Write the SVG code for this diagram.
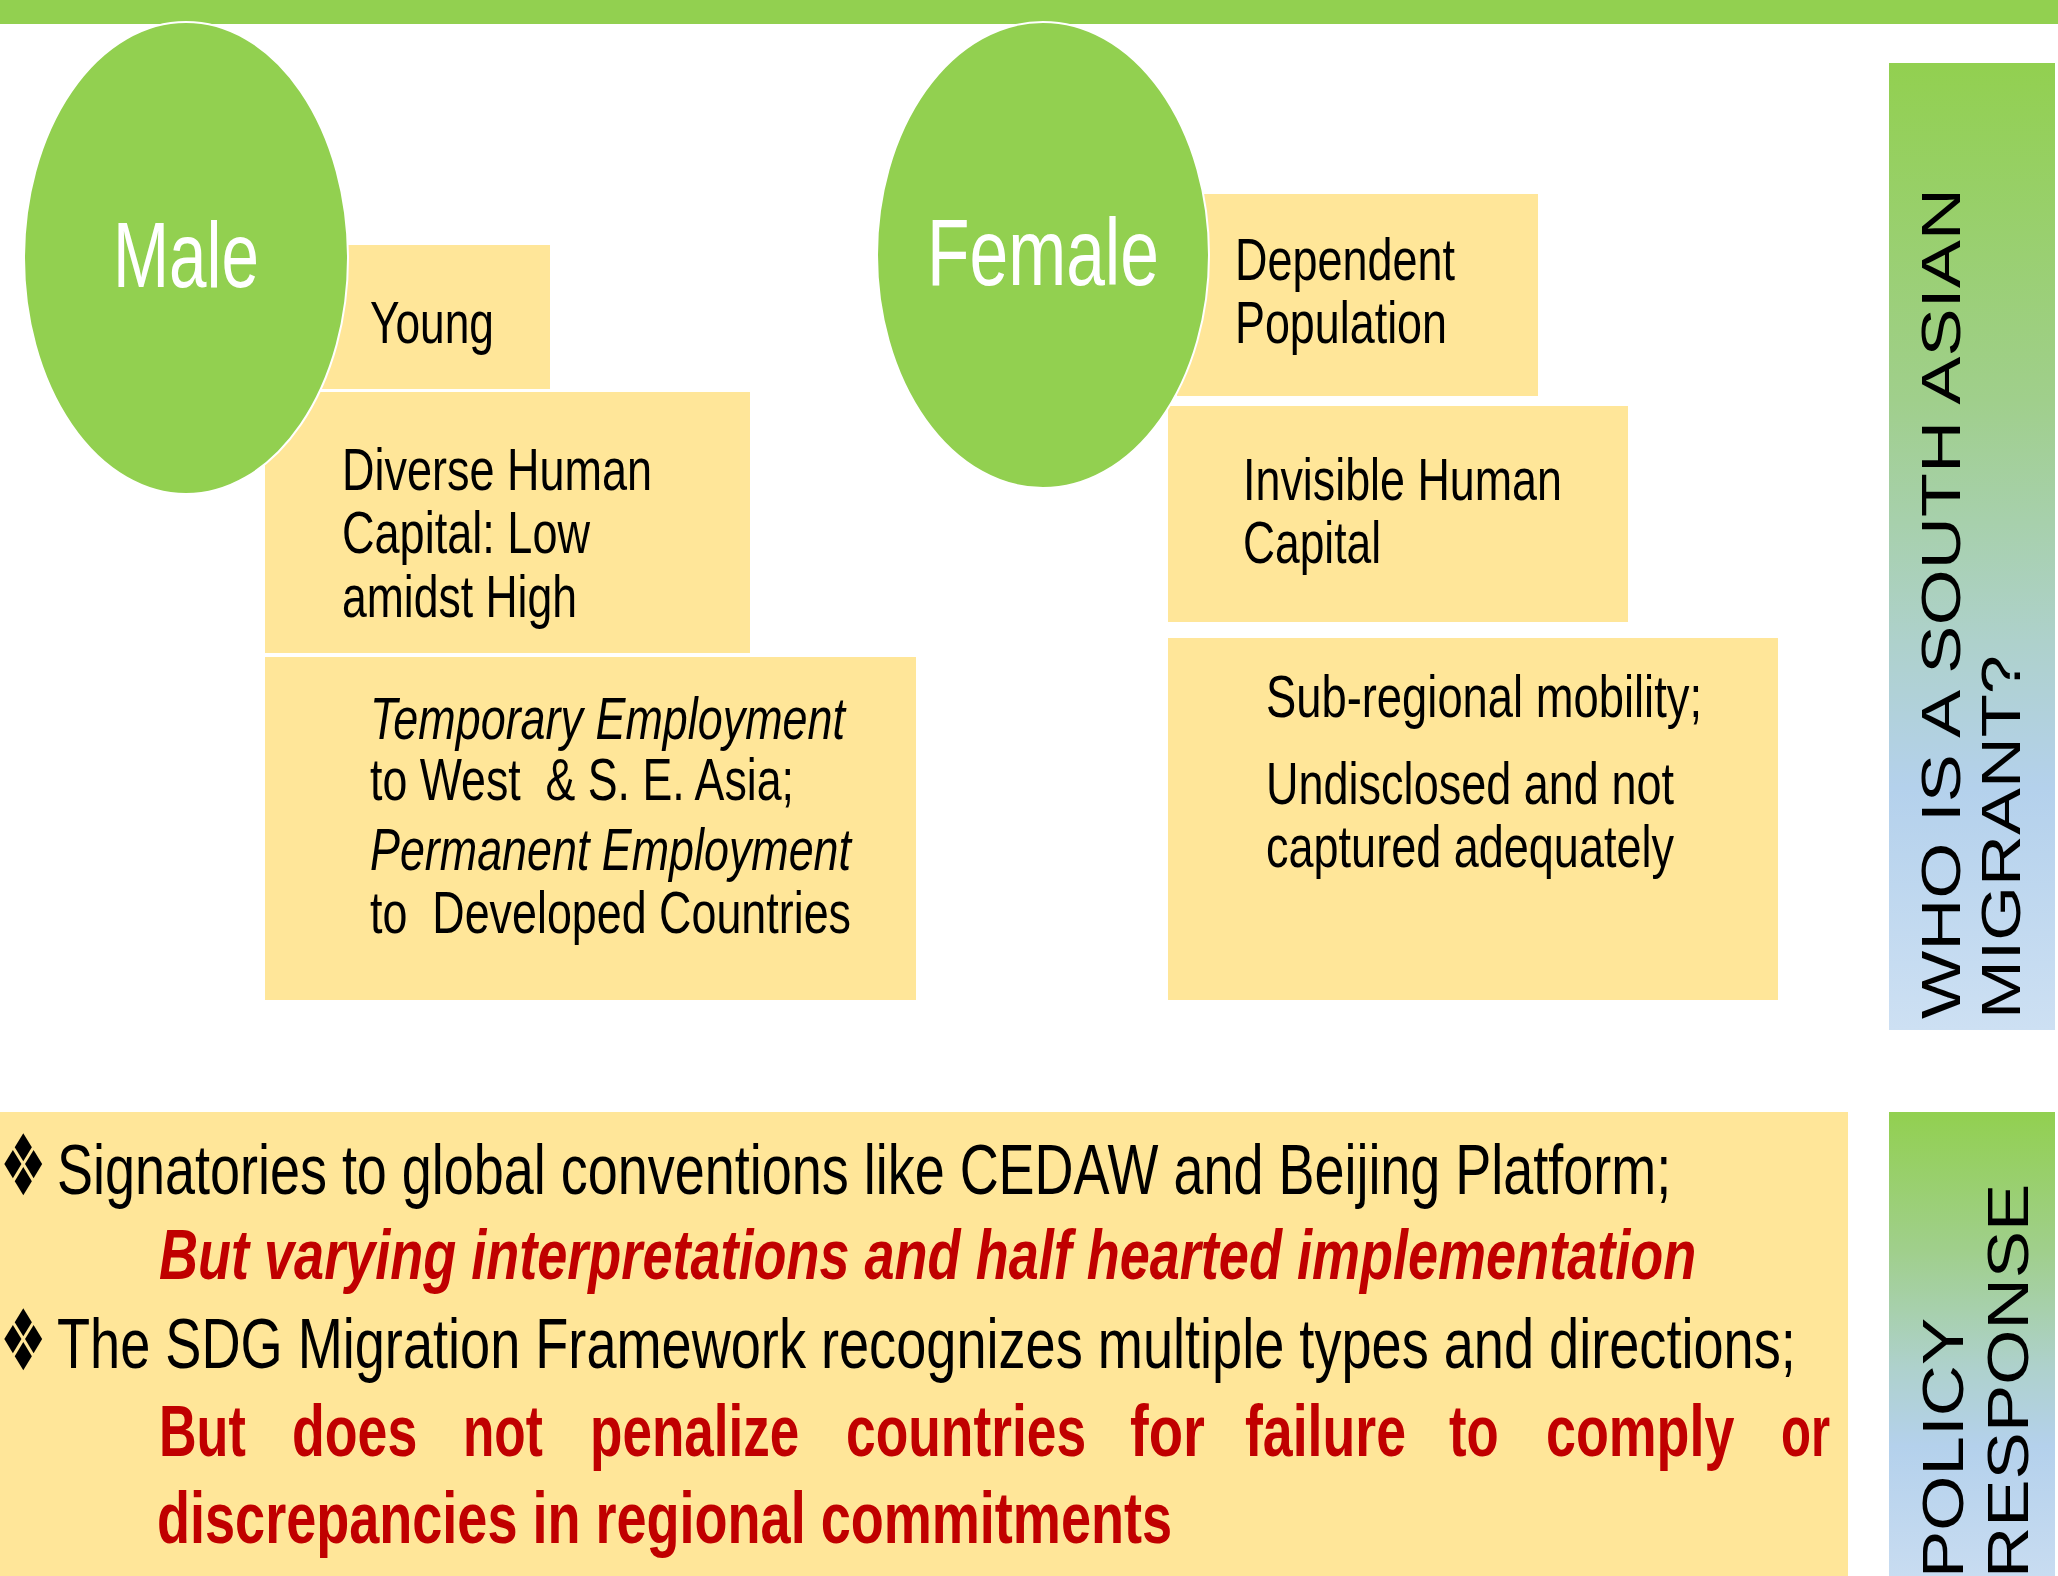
<svg xmlns="http://www.w3.org/2000/svg" width="2058" height="1576" viewBox="0 0 2058 1576">
<defs>
<linearGradient id="sideGrad" x1="0" y1="0" x2="0" y2="1">
<stop offset="0" stop-color="#92D050"/>
<stop offset="0.35" stop-color="#A0CF8C"/>
<stop offset="0.6" stop-color="#AED1CC"/>
<stop offset="0.75" stop-color="#B4D1EC"/>
<stop offset="1" stop-color="#CDE0F3"/>
</linearGradient>
<linearGradient id="policyGrad" x1="0" y1="0" x2="0" y2="1">
<stop offset="0" stop-color="#92D050"/>
<stop offset="0.3" stop-color="#A0CF8C"/>
<stop offset="0.55" stop-color="#AED1CC"/>
<stop offset="0.72" stop-color="#B4D1EC"/>
<stop offset="1" stop-color="#C8DCF1"/>
</linearGradient>
</defs>
<style>
text{font-family:"Liberation Sans",Arial,sans-serif;}
.box{fill:#FFE699;}
.circ{fill:#92D050;stroke:#FFFFFF;stroke-width:2;}
.big{fill:#FFFFFF;}
.t{fill:#000000;font-size:60px;}
.ti{fill:#000000;font-size:60px;font-style:italic;}
.b1{fill:#000000;font-size:71px;}
.r1{fill:#C00000;font-size:70px;font-weight:bold;font-style:italic;}
.r2{fill:#C00000;font-size:72px;font-weight:bold;}
.bul{fill:#000000;font-family:"DejaVu Sans",sans-serif;font-size:85px;}
.side{fill:#000000;font-size:71px;}
</style>
<rect x="0" y="0" width="2058" height="24" fill="#92D050"/>
<g id="connectors"/>
<g id="young">
<rect class="box" x="322" y="245" width="228" height="144"/>
<text class="t" x="370" y="343" textLength="124" lengthAdjust="spacingAndGlyphs">Young</text>
</g>
<g id="diverse">
<rect class="box" x="265" y="392" width="485" height="261"/>
<text class="t" x="342" y="490" textLength="310" lengthAdjust="spacingAndGlyphs">Diverse Human</text>
<text class="t" x="342" y="553" textLength="248" lengthAdjust="spacingAndGlyphs">Capital: Low</text>
<text class="t" x="342" y="617" textLength="235" lengthAdjust="spacingAndGlyphs">amidst High</text>
</g>
<g id="employment">
<rect class="box" x="265" y="657" width="651" height="343"/>
<text class="ti" x="370" y="739" textLength="475" lengthAdjust="spacingAndGlyphs">Temporary Employment</text>
<text class="t" x="370" y="800" textLength="424" lengthAdjust="spacingAndGlyphs" xml:space="preserve">to West  &amp; S. E. Asia;</text>
<text class="ti" x="370" y="870" textLength="481" lengthAdjust="spacingAndGlyphs">Permanent Employment</text>
<text class="t" x="370" y="933" textLength="481" lengthAdjust="spacingAndGlyphs" xml:space="preserve">to  Developed Countries</text>
</g>
<g id="male">
<ellipse class="circ" cx="186" cy="258" rx="162" ry="236"/>
<text class="big" x="113" y="287" font-size="93" textLength="146" lengthAdjust="spacingAndGlyphs">Male</text>
</g>
<g id="dependent">
<rect class="box" x="1177" y="194" width="361" height="202"/>
<text class="t" x="1235" y="280" textLength="220" lengthAdjust="spacingAndGlyphs">Dependent</text>
<text class="t" x="1235" y="343" textLength="212" lengthAdjust="spacingAndGlyphs">Population</text>
</g>
<g id="invisible">
<rect class="box" x="1168" y="406" width="460" height="216"/>
<text class="t" x="1243" y="500" textLength="319" lengthAdjust="spacingAndGlyphs">Invisible Human</text>
<text class="t" x="1243" y="563" textLength="138" lengthAdjust="spacingAndGlyphs">Capital</text>
</g>
<g id="subregional">
<rect class="box" x="1168" y="638" width="610" height="362"/>
<text class="t" x="1266" y="717" textLength="436" lengthAdjust="spacingAndGlyphs">Sub-regional mobility;</text>
<text class="t" x="1266" y="804" textLength="408" lengthAdjust="spacingAndGlyphs">Undisclosed and not</text>
<text class="t" x="1266" y="867" textLength="408" lengthAdjust="spacingAndGlyphs">captured adequately</text>
</g>
<g id="female">
<ellipse class="circ" cx="1043" cy="255" rx="166" ry="233"/>
<text class="big" x="927" y="285" font-size="95" textLength="232" lengthAdjust="spacingAndGlyphs">Female</text>
</g>
<g id="who-label">
<rect x="1889" y="63" width="166" height="967" fill="url(#sideGrad)"/>
<g transform="translate(1960,1019) scale(0.78,1) rotate(-90)"><text class="side" x="0" y="0" textLength="831" lengthAdjust="spacingAndGlyphs">WHO IS A SOUTH ASIAN</text></g>
<g transform="translate(2020,1019) scale(0.78,1) rotate(-90)"><text class="side" x="0" y="0" textLength="364" lengthAdjust="spacingAndGlyphs">MIGRANT?</text></g>
</g>
<g id="policy-box">
<rect x="0" y="1112" width="1848" height="464" fill="#FFE699"/>
<text class="bul" transform="translate(0,1195) scale(0.61,1)" x="0" y="0">❖</text>
<text class="b1" transform="translate(57,1194) scale(0.7,1)" x="0" y="0" textLength="2306" lengthAdjust="spacingAndGlyphs">Signatories to global conventions like CEDAW and Beijing Platform;</text>
<text class="r1" transform="translate(159,1279) scale(0.7,1)" x="0" y="0" textLength="2196" lengthAdjust="spacingAndGlyphs">But varying interpretations and half hearted implementation</text>
<text class="bul" transform="translate(0,1370) scale(0.61,1)" x="0" y="0">❖</text>
<text class="b1" transform="translate(57,1368) scale(0.7,1)" x="0" y="0" textLength="2484" lengthAdjust="spacingAndGlyphs">The SDG Migration Framework recognizes multiple types and directions;</text>
<text class="r2" transform="translate(159,1456) scale(0.7,1)" x="0" y="0" textLength="124" lengthAdjust="spacingAndGlyphs">But</text>
<text class="r2" transform="translate(292,1456) scale(0.7,1)" x="0" y="0" textLength="179" lengthAdjust="spacingAndGlyphs">does</text>
<text class="r2" transform="translate(463,1456) scale(0.7,1)" x="0" y="0" textLength="114" lengthAdjust="spacingAndGlyphs">not</text>
<text class="r2" transform="translate(590,1456) scale(0.7,1)" x="0" y="0" textLength="299" lengthAdjust="spacingAndGlyphs">penalize</text>
<text class="r2" transform="translate(846,1456) scale(0.7,1)" x="0" y="0" textLength="343" lengthAdjust="spacingAndGlyphs">countries</text>
<text class="r2" transform="translate(1130,1456) scale(0.7,1)" x="0" y="0" textLength="107" lengthAdjust="spacingAndGlyphs">for</text>
<text class="r2" transform="translate(1245,1456) scale(0.7,1)" x="0" y="0" textLength="230" lengthAdjust="spacingAndGlyphs">failure</text>
<text class="r2" transform="translate(1449,1456) scale(0.7,1)" x="0" y="0" textLength="71" lengthAdjust="spacingAndGlyphs">to</text>
<text class="r2" transform="translate(1546,1456) scale(0.7,1)" x="0" y="0" textLength="269" lengthAdjust="spacingAndGlyphs">comply</text>
<text class="r2" transform="translate(1781,1456) scale(0.7,1)" x="0" y="0" textLength="70" lengthAdjust="spacingAndGlyphs">or</text>
<text class="r2" transform="translate(157,1543) scale(0.7,1)" x="0" y="0" textLength="1450" lengthAdjust="spacingAndGlyphs">discrepancies in regional commitments</text>
</g>
<g id="policy-label">
<rect x="1889" y="1112" width="166" height="464" fill="url(#policyGrad)"/>
<g transform="translate(1963,1578) scale(0.82,1) rotate(-90)"><text class="side" x="0" y="0">POLICY</text></g>
<g transform="translate(2028,1578) scale(0.82,1) rotate(-90)"><text class="side" x="0" y="0">RESPONSE</text></g>
</g>
</svg>
